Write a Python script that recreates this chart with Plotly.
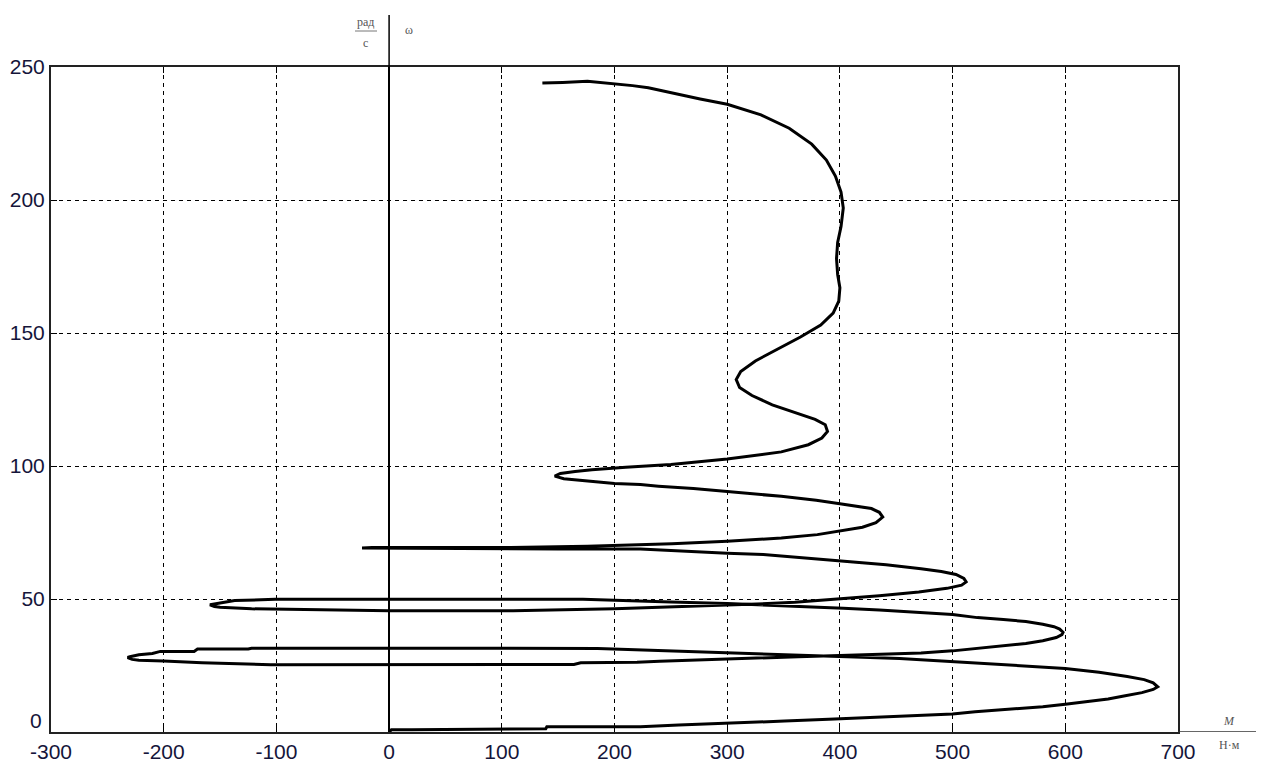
import plotly.graph_objects as go

# Dynamic mechanical characteristic: torque M (N·m) vs angular speed ω (rad/s)
torque = [
    0, 2, 20, 60, 100, 139, 140, 200, 223, 257, 300, 351, 390, 430, 460, 500,
    520, 545, 565, 580, 600, 620, 638, 652, 668, 678, 682,
    678, 670, 655, 630, 600, 565, 522, 500, 472, 453, 420, 400, 363, 330, 300,
    260, 223, 185, 100, 0, -122, -125, -170, -173, -203, -210, -222, -230, -232,
    -228, -222, -200, -166, -105, 0, 100, 164, 170, 220, 240, 300, 330, 363,
    400, 430, 456, 472, 500, 522, 545, 565, 580, 592, 597, 598,
    595, 590, 580, 565, 545, 522, 500, 472, 435, 403, 372, 335, 300, 250, 200,
    172, 0, -101, -137, -150, -157, -159, -155, -150, -122, -58, 0, 110, 150,
    200, 240, 280, 320, 360, 400, 435, 470, 495, 508, 512,
    510, 503, 490, 472, 441, 400, 363, 332, 300, 270, 239, 223, 150, 0, -20,
    -24, -15, 0, 108, 176, 200, 223, 251, 300, 348, 380, 400, 420, 432, 438,
    435, 428, 400, 379, 348, 300, 270, 239, 223, 200, 175, 155, 147, 152, 165,
    180, 210, 250, 300, 348, 372, 384, 389,
    387, 378, 360, 340, 322, 311, 308, 312, 325, 345, 365, 383, 394, 399, 400,
    398, 397, 398, 401, 403, 401, 396, 388, 375, 355, 330, 300, 276, 250, 230,
    216, 200, 176, 154, 136,
]
speed = [
    0, 0.8, 0.8, 1.0, 1.1, 1.2, 2.0, 2.0, 2.0, 2.6, 3.2, 4.1, 4.8, 5.5, 6.2, 6.8,
    7.6, 8.4, 9.0, 9.5, 10.4, 11.4, 12.4, 13.5, 14.8, 16.0, 17.0,
    18.5, 19.7, 20.9, 22.5, 23.9, 24.8, 25.9, 26.6, 27.1, 27.6, 28.1, 28.4, 28.9,
    29.4, 29.9, 30.5, 30.9, 31.4, 31.5, 31.5, 31.5, 31.2, 31.2, 30.3, 30.3, 29.5,
    29.0, 28.3, 28.0, 27.3, 27.0, 26.7, 26.0, 25.3, 25.3, 25.3, 25.4, 26.0, 26.2,
    26.6, 27.3, 27.7, 28.3, 28.8, 29.2, 29.5, 29.7, 30.5, 31.4, 32.4, 33.3, 34.3,
    35.5, 36.6, 37.5,
    38.7, 39.6, 40.5, 41.5, 42.3, 43.0, 44.2, 45.0, 45.9, 46.5, 47.1, 47.7, 48.3,
    48.9, 49.4, 49.9, 49.9, 49.9, 49.4, 48.6, 48.2, 47.8, 47.2, 46.9, 46.3, 45.8,
    45.6, 45.6, 45.9, 46.3, 46.9, 47.4, 48.0, 48.8, 50.0, 51.2, 52.6, 54.0, 55.2,
    56.4,
    57.7, 59.2, 60.3, 61.4, 62.9, 64.3, 65.8, 66.7, 67.2, 67.9, 68.5, 68.8, 68.8,
    69.0, 69.0, 69.2, 69.4, 69.4, 69.4, 69.8, 70.1, 70.3, 70.8, 71.7, 72.9, 74.2,
    75.5, 77.0, 78.7, 80.8,
    82.6, 84.0, 85.8, 87.1, 88.6, 90.5, 91.5, 92.4, 93.0, 93.4, 94.3, 95.2, 96.2,
    97.2, 97.9, 98.6, 99.5, 100.6, 102.6, 105.3, 108.0, 110.5, 113.0,
    115.5, 117.5, 120, 123, 126.5, 129.5, 132.5, 135.5, 139.5, 144, 148.5, 153,
    157.5, 162, 167, 172, 178, 184, 190, 197, 203, 209, 215, 221, 227, 232, 236,
    238, 240.5, 242.2, 243.0, 243.6, 244.6, 244.2, 244.0,
]

x_ticks = [-300, -200, -100, 0, 100, 200, 300, 400, 500, 600, 700]
y_ticks = [50, 100, 150, 200, 250]

W, H = 1270, 764
L, R, T, B = 51, 92, 67, 32
pw, ph = W - L - R, H - T - B


def px(xp):
    return (xp - L) / pw


def py(yp):
    return (H - B - yp) / ph


label_font = dict(family="Liberation Sans, Arial, sans-serif", size=21, color="#15153a")
unit_font = dict(family="Liberation Serif, Times New Roman, serif", size=12, color="#555555")

fig = go.Figure()
fig.add_trace(go.Scatter(
    x=torque, y=speed, mode="lines",
    line=dict(color="black", width=3),
    showlegend=False, hoverinfo="skip",
))

axis_common = dict(
    showline=True, linecolor="#222222", linewidth=2, mirror="ticks",
    ticks="inside", ticklen=6, tickcolor="black", tickwidth=1,
    showgrid=True, gridcolor="black", gridwidth=1, griddash="4px,4px",
    tickfont=label_font, fixedrange=True, automargin=False,
)

fig.update_xaxes(
    range=[-300, 700], tickvals=x_ticks, ticktext=[str(v) for v in x_ticks],
    zeroline=True, zerolinecolor="black", zerolinewidth=1.5,
    **axis_common,
)
fig.update_yaxes(
    range=[0, 250], tickvals=y_ticks, ticktext=[str(v) for v in y_ticks],
    zeroline=False, **axis_common,
)

# extension of the ω axis above the frame and of the M axis past the frame
fig.add_shape(type="line", xref="x", yref="paper", x0=0, x1=0, y0=1, y1=py(15),
              line=dict(color="black", width=1.5))
fig.add_shape(type="line", xref="paper", yref="y", x0=1, x1=px(1256), y0=0, y1=0,
              line=dict(color="#333333", width=1.5))


def note(x, y, text, font, xanchor="center"):
    fig.add_annotation(xref="paper", yref="paper", x=px(x), y=py(y), text=text,
                       showarrow=False, xanchor=xanchor, yanchor="middle", font=font)


# "0" of the ω axis, placed just above the corner
note(44, 720, "0", label_font, xanchor="right")

# unit fraction rad/s and ω label
note(366, 22, "рад", unit_font)
fig.add_shape(type="line", xref="paper", yref="paper", x0=px(355), x1=px(377),
              y0=py(31), y1=py(31), line=dict(color="#777777", width=1))
note(366, 43, "с", unit_font)
note(409, 30, "ω", unit_font)

# unit fraction M / N·m
note(1229, 721, "<i>M</i>", unit_font)
note(1229, 745, "Н·м", unit_font)

fig.update_layout(
    width=W, height=H, autosize=False,
    margin=dict(l=L, r=R, t=T, b=B, pad=0),
    paper_bgcolor="white", plot_bgcolor="white",
)

fig.write_html("out.html", config={"displayModeBar": False})
